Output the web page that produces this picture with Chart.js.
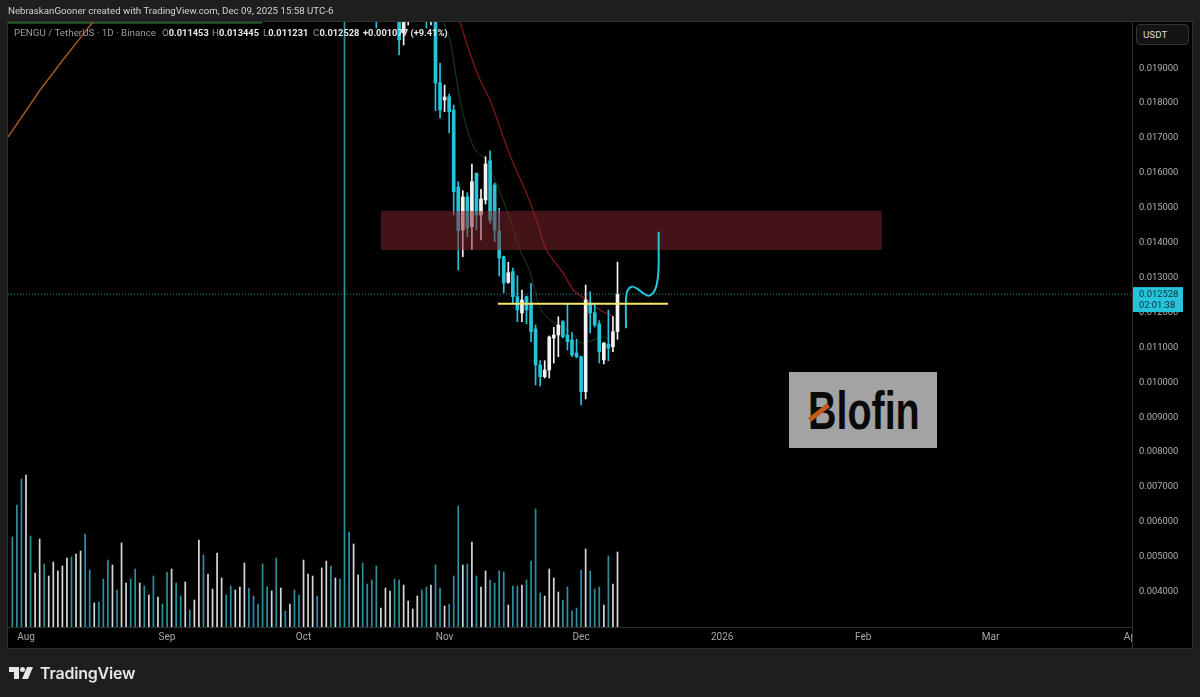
<!DOCTYPE html>
<html>
<head>
<meta charset="utf-8">
<title>PENGU / TetherUS</title>
<script src="https://cdn.jsdelivr.net/npm/chart.js@4/dist/chart.umd.min.js"></script>
<style>
    html, body { margin: 0; padding: 0; background: #1e1e1e; }
    #page { position: relative; width: 1200px; height: 697px; overflow: hidden; font-family: Roboto, sans-serif; }
    canvas { position: absolute; left: 0; top: 0; }
    .txt { position: absolute; white-space: nowrap; }
    #byline { left: 8px; top: 5px; font-size: 9.7px; color: #d2d2d2; }
    .legend { top: 27px; font-size: 9.8px; color: #9a9a9a; }
    .legend b { color: #e8e8e8; font-weight: 700; font-size: 9.3px; }
    #usdt { position: absolute; left: 1136px; top: 24px; width: 53px; height: 21px; box-sizing: border-box;
            border: 1px solid #333; border-radius: 4px; background: #141414; color: #dcdcdc;
            font-size: 9.8px; line-height: 19px; padding-left: 6px; }
    #blofin { position: absolute; left: 789px; top: 372px; width: 148px; height: 76px; background: #a3a3a3; overflow: hidden; }
    #blofin span { position: absolute; left: 19px; top: 9px; font: bold 54px/58px "Liberation Sans", sans-serif;
                   color: #0a0a0a; transform: scaleX(0.73); transform-origin: 0 0; }
    #blofin i { position: absolute; left: 18px; top: 38px; width: 24px; height: 5px; background: #c4591a; transform: rotate(-38deg); }
    #tvlogo { position: absolute; left: 9px; top: 666px; }
    #tvname { left: 40px; top: 662px; font: 600 16px/22px Inter, sans-serif; color: #e6e6e6; letter-spacing: -0.2px; }
</style>
</head>
<body>
<div id="page">
    <canvas id="chart" width="1200" height="697"></canvas>
    <div class="txt" id="byline">NebraskanGooner created with TradingView.com, Dec 09, 2025 15:58 UTC-6</div>
    <div class="txt legend" style="left:14px">PENGU / TetherUS · 1D · Binance</div>
    <div class="txt legend" style="left:162px">O<b>0.011453</b></div>
    <div class="txt legend" style="left:212px">H<b>0.013445</b></div>
    <div class="txt legend" style="left:263px">L<b>0.011231</b></div>
    <div class="txt legend" style="left:313px">C<b>0.012528</b></div>
    <div class="txt legend" style="left:363px"><b>+0.001077 (+9.41%)</b></div>
    <div id="usdt">USDT</div>
    <div id="blofin"><span>Blofin</span><i></i></div>
    <svg id="tvlogo" width="25" height="14" viewBox="0 0 25 14">
        <path d="M0 1h10v12H5V6H0z" fill="#e6e6e6"/>
        <circle cx="13.5" cy="3.5" r="2.5" fill="#e6e6e6"/>
        <path d="M18 1h6l-5 12h-6z" fill="#e6e6e6"/>
    </svg>
    <div class="txt" id="tvname">TradingView</div>
</div>

<script>
    // Days are counted from Aug 1 2025
    const monthDays = [0, 31, 61, 92, 122, 153, 184, 212, 243];
    const monthLabels = ['Aug', 'Sep', 'Oct', 'Nov', 'Dec', '2026', 'Feb', 'Mar', 'Apr'];
    const priceTicks = [0.019, 0.018, 0.017, 0.016, 0.015, 0.014, 0.013, 0.012, 0.011, 0.010, 0.009, 0.008, 0.007, 0.006, 0.005, 0.004];

    // Volume, relative units, one bar a day starting at firstVolumeDay
    const firstVolumeDay = -3;
    const volumes = [90, 122, 148, 152, 91, 54, 88, 63, 51, 65, 56, 61, 69, 70, 73, 76, 93, 57, 24, 25, 48, 67, 62, 37, 84, 44, 48, 58, 44, 41, 32, 51, 30, 23,
        55, 58, 44, 31, 45, 17, 27, 87, 72, 53, 38, 74, 49, 32, 41, 37, 40, 64, 39, 31, 23, 63, 40, 36, 69, 39, 16, 23, 37, 32,
        67, 53, 51, 31, 59, 66, 61, 49, 48, 700, 95, 83, 52, 64, 43, 47, 61, 19, 39, 36, 48, 47, 42, 26, 18, 31, 37, 40, 42, 62, 39,
        21, 23, 51, 121, 62, 63, 85, 51, 40, 56, 47, 44, 56, 55, 22, 41, 41, 42, 47, 66, 118, 34, 31, 58, 49, 35, 27, 40, 16, 19, 57, 78, 56, 38, 40, 22, 71, 43, 75];
    // 1 = up day (white), 0 = down day (teal)
    const volumeUp = [0, 0, 0, 1, 0, 1, 1, 0, 1, 1, 1, 1, 1, 0, 1, 1, 0, 0, 1, 0, 0, 0, 1, 0, 1, 1, 0, 0, 1, 0, 1, 0, 1, 0,
        0, 1, 0, 0, 1, 0, 1, 1, 0, 1, 1, 1, 1, 0, 0, 1, 1, 1, 0, 0, 0, 0, 0, 1, 0, 1, 0, 1, 0, 0,
        1, 1, 1, 0, 1, 1, 0, 1, 0, 0, 0, 1, 1, 0, 0, 0, 0, 1, 1, 1, 0, 0, 1, 1, 1, 1, 0, 0, 1, 0, 0,
        1, 0, 0, 0, 1, 0, 1, 0, 1, 1, 0, 0, 0, 0, 1, 0, 0, 1, 0, 0, 0, 0, 1, 1, 1, 1, 0, 0, 0, 0, 0, 1, 0, 0, 0, 1, 0, 1, 1];

    // Candles, one a day starting at firstCandleDay. Those before Nov are mostly above the top of the view
    const firstCandleDay = 77;
    const opens = [0.0218, 0.0210, 0.0216, 0.0219, 0.0223, 0.0216, 0.020008, 0.0207, 0.0212, 0.0217, 0.0219, 0.0214, 0.0207,
        0.0211, 0.018585, 0.018089, 0.018183, 0.017802, 0.015596, 0.014364, 0.01531, 0.014459, 0.015989, 0.014794, 0.015224, 0.01635, 0.015654,
        0.014336, 0.0136, 0.012866, 0.01317, 0.012453, 0.011986, 0.012453, 0.012273, 0.011528, 0.010497, 0.010161, 0.010353, 0.01127, 0.011356,
        0.011737, 0.011356, 0.011213, 0.01084, 0.010734, 0.009732, 0.012273, 0.011995, 0.011671, 0.01064, 0.011098, 0.011021, 0.011453];
    const highs = [0.0221, 0.0221, 0.0222, 0.0225, 0.0225, 0.0219, 0.0214, 0.0216, 0.0220, 0.0222, 0.0221, 0.0218, 0.0215,
        0.0213, 0.01914, 0.018519, 0.018261, 0.017946, 0.015748, 0.01549, 0.015433, 0.016255, 0.015997, 0.01553, 0.016464, 0.016636, 0.015711,
        0.014986, 0.01362, 0.013439, 0.013276, 0.013055, 0.012645, 0.012474, 0.012837, 0.011643, 0.01062, 0.01062, 0.011328, 0.011577, 0.01188,
        0.011766, 0.012244, 0.011422, 0.011233, 0.010755, 0.012789, 0.012597, 0.012273, 0.011766, 0.011136, 0.012072, 0.01188, 0.013445];
    const lows = [0.02015, 0.0208, 0.0212, 0.0215, 0.0214, 0.019378, 0.019665, 0.020238, 0.0208, 0.0212, 0.0211, 0.020152, 0.020238,
        0.017782, 0.017573, 0.017754, 0.017144, 0.014794, 0.013218, 0.0136, 0.014172, 0.013811, 0.014364, 0.014078, 0.015109, 0.014556, 0.014029,
        0.013047, 0.012568, 0.012837, 0.012273, 0.011737, 0.011737, 0.011671, 0.011164, 0.009924, 0.009895, 0.010124, 0.010124, 0.010554, 0.010734,
        0.01127, 0.010926, 0.010734, 0.010697, 0.009351, 0.009522, 0.011413, 0.011585, 0.010554, 0.010525, 0.01062, 0.010878, 0.011231];
    const closes = [0.0208, 0.0216, 0.0219, 0.0223, 0.0216, 0.019808, 0.0207, 0.0212, 0.0217, 0.0219, 0.0214, 0.0207, 0.0211,
        0.018576, 0.017802, 0.018175, 0.017754, 0.015462, 0.014344, 0.01531, 0.014422, 0.015748, 0.014794, 0.015253, 0.016255, 0.014651, 0.014364,
        0.013562, 0.012846, 0.013141, 0.012453, 0.012072, 0.012359, 0.012072, 0.011451, 0.010497, 0.010161, 0.010353, 0.011299, 0.011356, 0.011643,
        0.011308, 0.011164, 0.010783, 0.010734, 0.009732, 0.012359, 0.011986, 0.011643, 0.010878, 0.011127, 0.010975, 0.011451, 0.012528];

    // Moving averages
    const greenDays = [91.7, 93.2, 94.3, 95.4, 97.2, 99.0, 100.9, 102.7, 104.6, 106.4, 108.6, 110.8, 112.2, 113.6, 116.9, 119.9, 122.1, 126.8, 128.4];
    const greenValues = [0.020332, 0.019808, 0.018948, 0.018089, 0.017135, 0.016608, 0.016419, 0.015891, 0.015318, 0.014651, 0.013791, 0.013161, 0.012453, 0.011986, 0.011643, 0.011413, 0.011127, 0.011299, 0.011213];
    const redDays = [95.4, 97.2, 99.8, 102.0, 104.6, 107.1, 109.7, 112.2, 114.4, 118.1, 120.3, 123.2, 126.2, 129.1];
    const redValues = [0.020332, 0.01957, 0.018662, 0.018089, 0.017135, 0.016275, 0.01551, 0.014651, 0.013791, 0.013124, 0.012645, 0.012359, 0.012072, 0.01188];
    const orangeDays = [-3.96, -0.2, 3.1, 8.1, 14.7];
    const orangeValues = [0.017029, 0.017745, 0.018375, 0.019235, 0.020324];
    const topGreenDays = [-3.96, 51.9];
    const topGreenValues = [0.0203, 0.0203];

    // Drawings on the chart
    const zoneDays = [78.0, 188.1];
    const zonePrices = [0.014909, 0.013791];
    const levelDays = [103.7, 141.1];
    const levelPrice = 0.012253;
    const pathDays = [131.87, 131.87, 132.2, 133.1, 134.2, 135.7, 136.8, 137.9, 138.6, 139.0, 139.05, 139.05];
    const pathPrices = [0.011547, 0.012359, 0.012625, 0.01274, 0.012694, 0.012551, 0.012482, 0.012568, 0.012789, 0.01317, 0.013791, 0.014316];
    const lastClose = 0.012528;
    const countdown = '02:01:38';

    const xMin = -3.956, xMax = 243.08;
    const TEAL = '#26c4da';
    const WHITE = '#f2f2f2';

    const pairs = (xs, ys) => xs.map((x, i) => ({ x: x, y: ys[i] }));
    const candleDay = i => firstCandleDay + i;
    const candleColors = opens.map((o, i) => closes[i] >= o ? WHITE : TEAL);

    function lineSet(data, color, width, order, extra) {
        return Object.assign({
            type: 'line', data: data, borderColor: color, borderWidth: width, order: order,
            pointRadius: 0, tension: 0, fill: false, xAxisID: 'x', yAxisID: 'y'
        }, extra || {});
    }

    // Black panels, frame lines and the last price tag
    const framePlugin = {
        id: 'frame',
        beforeDraw(chart) {
            const c = chart.ctx, a = chart.chartArea;
            c.save();
            c.fillStyle = '#000';
            c.fillRect(a.left, a.top, 1192 - a.left, 648 - a.top);
            c.strokeStyle = '#303030';
            c.lineWidth = 1;
            c.strokeRect(a.left - 0.5, a.top - 0.5, 1192 - a.left + 1, 648 - a.top + 1);
            c.restore();
        },
        afterDraw(chart) {
            const c = chart.ctx, a = chart.chartArea;
            const y = chart.scales.y.getPixelForValue(lastClose);
            c.save();
            // the Apr label runs under the price axis
            c.fillStyle = '#000';
            c.fillRect(a.right + 1, a.bottom + 1, 1191 - a.right, 20);
            c.strokeStyle = '#303030';
            c.beginPath();
            c.moveTo(a.right + 0.5, a.bottom);
            c.lineTo(a.right + 0.5, 648);
            c.stroke();
            c.fillStyle = TEAL;
            c.fillRect(a.right + 1, y - 7, 50, 25);
            c.fillStyle = '#0b2f38';
            c.font = '9.4px Roboto';
            c.textBaseline = 'middle';
            c.fillText(lastClose.toFixed(6), a.right + 7, y + 0.5);
            c.fillText(countdown, a.right + 7, y + 11.5);
            c.restore();
        }
    };

    new Chart(document.getElementById('chart'), {
        type: 'bar',
        plugins: [framePlugin],
        data: {
            datasets: [
                // Volume
                {
                    data: volumes.map((v, i) => ({ x: firstVolumeDay + i, y: v })),
                    backgroundColor: volumeUp.map(u => u ? '#d6d6d6' : '#2c8f9e'),
                    barThickness: 1.05, grouped: false, order: 9, xAxisID: 'x', yAxisID: 'vol'
                },
                // Moving averages
                lineSet(pairs(orangeDays, orangeValues), '#a35a20', 1.4, 8),
                lineSet(pairs(topGreenDays, topGreenValues), '#255a2a', 2, 8),
                lineSet(pairs(greenDays, greenValues), '#144416', 1, 8, { tension: 0.3 }),
                lineSet(pairs(redDays, redValues), '#7f1718', 1.3, 8, { tension: 0.3 }),
                // Candle wicks
                {
                    data: lows.map((l, i) => ({ x: candleDay(i), y: [l, highs[i]] })),
                    backgroundColor: candleColors,
                    barThickness: 1, grouped: false, order: 7, xAxisID: 'x', yAxisID: 'y'
                },
                // Candle bodies
                {
                    data: opens.map((o, i) => ({ x: candleDay(i), y: [o, closes[i]] })),
                    backgroundColor: candleColors,
                    barThickness: 3, grouped: false, order: 6, xAxisID: 'x', yAxisID: 'y'
                },
                // Last price line
                lineSet(pairs([xMin, xMax], [lastClose, lastClose]), 'rgba(38,196,218,0.75)', 1, 5, { borderDash: [1, 2] }),
                // Resistance zone
                lineSet(pairs(zoneDays, [zonePrices[1], zonePrices[1]]), 'rgba(0,0,0,0)', 0, 3, {
                    fill: { target: { value: zonePrices[0] } },
                    backgroundColor: 'rgba(130,36,44,0.52)'
                }),
                // Projected path and support level
                lineSet(pairs(pathDays, pathPrices), TEAL, 2, 1, { tension: 0.35 }),
                lineSet(pairs(levelDays, [levelPrice, levelPrice]), '#f7e76a', 2, 0)
            ]
        },
        options: {
            responsive: false,
            animation: false,
            events: [],
            layout: { padding: { left: 8, top: 22, right: 0, bottom: 0 } },
            plugins: { legend: { display: false }, tooltip: { enabled: false } },
            scales: {
                x: {
                    type: 'linear', position: 'bottom', min: xMin, max: xMax, offset: false,
                    grid: { display: false, drawTicks: false },
                    border: { display: true, color: '#303030' },
                    afterFit: s => { s.height = 70; },
                    afterBuildTicks: s => { s.ticks = monthDays.map(d => ({ value: d })); },
                    ticks: {
                        autoSkip: false, maxRotation: 0, padding: 4, color: '#a8a8a8',
                        font: { family: 'Roboto', size: 10 },
                        callback: v => monthLabels[monthDays.indexOf(v)]
                    }
                },
                y: {
                    type: 'linear', position: 'right', min: 0.002989, max: 0.020324,
                    grid: { display: false, drawTicks: false },
                    border: { display: true, color: '#303030' },
                    afterFit: s => { s.width = 68; },
                    afterBuildTicks: s => { s.ticks = priceTicks.map(v => ({ value: v })); },
                    ticks: {
                        padding: 7, color: '#b0b0b0',
                        font: { family: 'Roboto', size: 9.4 },
                        callback: v => v.toFixed(6)
                    }
                },
                vol: { type: 'linear', display: false, min: 0, max: 605 }
            }
        }
    });
</script>
</body>
</html>
